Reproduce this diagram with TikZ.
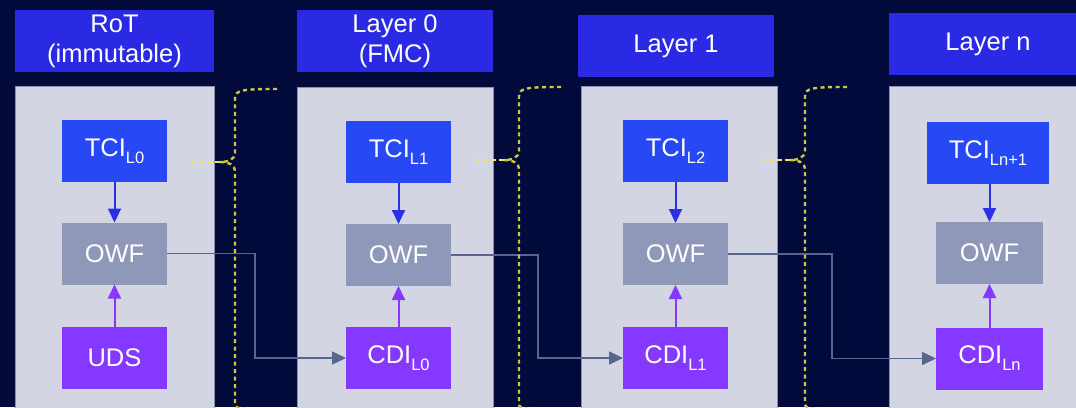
\documentclass[tikz,border=0pt]{standalone}
\usepackage{fontspec}
\setmainfont{Liberation Sans}
\usetikzlibrary{arrows.meta}

\definecolor{bgnavy}{HTML}{010A3B}
\definecolor{titleblue}{HTML}{2A2AE4}
\definecolor{panelgray}{HTML}{D3D6E2}
\definecolor{paneledge}{HTML}{8A90AE}
\definecolor{tciblue}{HTML}{2748F5}
\definecolor{owfgray}{HTML}{8F98B8}
\definecolor{cdipurple}{HTML}{8538FF}
\definecolor{arrowblue}{HTML}{2A30E6}
\definecolor{linkgray}{HTML}{56668C}
\definecolor{braceyellow}{HTML}{CFC83C}
\definecolor{pointeryellow}{HTML}{ECE85A}

% subscript set smaller and lowered below the baseline
\newcommand{\lsub}[1]{\raisebox{-7pt}{\fontsize{16.5}{16.5}\selectfont #1}}

% dashed curly brace between two layers:
% #1 spine x, #2 top y, #3 cusp y, #4 x of the pointer tip
\newcommand{\layerbrace}[4]{%
  \draw[bracepath] (#1+42,#2) .. controls (#1+8,#2) and (#1,#2+1) .. (#1,#2+9)
    -- (#1,#3-9) .. controls (#1,#3-3) and (#1-6,#3) .. (#1-15,#3);
  \draw[bracepath] (#1-15,#3) .. controls (#1-6,#3) and (#1,#3+3) .. (#1,#3+10)
    -- (#1,404) .. controls (#1,408) and (#1+4,409) .. (#1+15,409);
  \draw[pointer] (#1-15,#3) -- (#4,#3);
}

\tikzset{
  box/.style={minimum width=105pt, minimum height=62pt, inner sep=0pt,
    outer sep=0pt, text=white, font=\fontsize{25.5}{30}\selectfont},
  tcibox/.style={box, fill=tciblue},
  owfbox/.style={box, fill=owfgray},
  cdibox/.style={box, fill=cdipurple},
  titlebox/.style={box, fill=titleblue, minimum width=198pt, align=center},
  panel/.style={fill=panelgray, draw=paneledge, line width=1pt},
  feed/.style={line width=2pt, -{Triangle[length=14pt,width=13pt]}},
  link/.style={draw=linkgray, line width=1.6pt,
    -{Triangle[length=14pt,width=13pt]}},
  bracepath/.style={draw=braceyellow, line width=2.4pt,
    dash pattern=on 4pt off 3.5pt},
  pointer/.style={draw=pointeryellow, line width=2.6pt,
    dash pattern=on 5pt off 3pt},
}

\begin{document}
\begin{tikzpicture}[x=1pt, y=-1pt]
  \useasboundingbox (0,0) rectangle (1076,407);
  \clip (0,0) rectangle (1076,407);
  \fill[bgnavy] (0,0) rectangle (1076,407);

  % layer panels
  \path[panel] (15,86) rectangle (214,420);
  \path[panel] (297,87) rectangle (493,420);
  \path[panel] (581,86) rectangle (777,420);
  \path[panel] (889,86) rectangle (1090,420);

  % layer titles
  \node[titlebox, minimum width=199pt] (t0) at (114.5,41) {RoT\\(immutable)};
  \node[titlebox, minimum width=196pt] (t1) at (395,41) {Layer 0\\(FMC)};
  \node[titlebox, minimum width=196pt] (t2) at (676,46) {Layer 1};
  \node[titlebox] (t3) at (988,44) {Layer n};

  % RoT
  \node[tcibox] (tci0) at (114.5,151) {TCI\lsub{L0}};
  \node[owfbox] (owf0) at (114.5,253.5) {OWF};
  \node[cdibox] (uds)  at (114.5,358) {UDS};

  % Layer 0
  \node[tcibox] (tci1) at (398.5,152) {TCI\lsub{L1}};
  \node[owfbox] (owf1) at (398.5,255) {OWF};
  \node[cdibox] (cdi0) at (398.5,358) {CDI\lsub{L0}};

  % Layer 1
  \node[tcibox] (tci2) at (675.5,151) {TCI\lsub{L2}};
  \node[owfbox] (owf2) at (675.5,254) {OWF};
  \node[cdibox] (cdi1) at (675.5,358) {CDI\lsub{L1}};

  % Layer n
  \node[tcibox, minimum width=122pt] (tci3) at (988,153) {TCI\lsub{Ln+1}};
  \node[owfbox, minimum width=107pt] (owf3) at (989.5,253) {OWF};
  \node[cdibox, minimum width=107pt] (cdi3) at (989.5,358.5) {CDI\lsub{Ln}};

  % inputs into each one-way function
  \foreach \t/\o in {tci0/owf0, tci1/owf1, tci2/owf2, tci3/owf3}
    \draw[feed, draw=arrowblue, fill=arrowblue] (\o.north |- \t.south) -- (\o.north);
  \foreach \c/\o in {uds/owf0, cdi0/owf1, cdi1/owf2, cdi3/owf3}
    \draw[feed, draw=cdipurple, fill=cdipurple] (\c) -- (\o);

  % derived CDI handed to the next layer
  \coordinate (j0) at (255,300);
  \coordinate (j1) at (538,300);
  \coordinate (j2) at (832,300);
  \draw[link] (owf0.east) -| (j0) |- (cdi0.west);
  \draw[link] (owf1.east) -| (j1) |- (cdi1.west);
  \draw[link] (owf2.east) -| (j2) |- (cdi3.west);

  % braces grouping each TCI with the following layer
  \layerbrace{235}{89}{162}{192}
  \layerbrace{519}{87}{160}{477}
  \layerbrace{805}{87}{160}{763}
\end{tikzpicture}
\end{document}
